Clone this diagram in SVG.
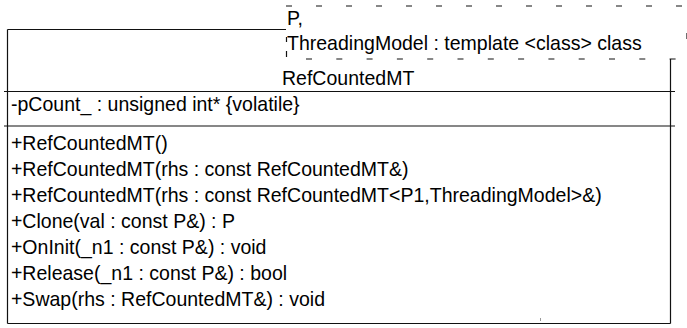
<svg xmlns="http://www.w3.org/2000/svg" width="687" height="328" viewBox="0 0 687 328">
<style>
.t{font-family:"Liberation Sans",Arial,sans-serif;font-size:21px;fill:#000}
.ln{stroke:#111;stroke-width:1.2;fill:none}
.dash{stroke:#111;stroke-width:1.2;fill:none;stroke-dasharray:6 24}
</style>
<rect width="687" height="328" fill="#fff"/>
<g id="class-RefCountedMT">
<line class="ln" x1="7.5" y1="29.5" x2="7.5" y2="323.5"/>
<line class="ln" x1="7.5" y1="29.5" x2="286" y2="29.5"/>
<line class="ln" x1="670.5" y1="59" x2="670.5" y2="323.5"/>
<line class="ln" x1="7.5" y1="323.5" x2="670.5" y2="323.5"/>
<line class="ln" x1="4" y1="91.5" x2="675" y2="91.5"/>
<line class="ln" x1="4" y1="126" x2="675" y2="126"/>
<line x1="540.5" y1="318" x2="540.5" y2="321" stroke="#999" stroke-width="1"/>
<g transform="scale(0.93,1)">
<text class="t" x="303.2" y="85">RefCountedMT</text>
<text class="t" x="11.8" y="111.5">-pCount_ : unsigned int* {volatile}</text>
<text class="t" x="11.8" y="150">+RefCountedMT()</text>
<text class="t" x="11.8" y="176">+RefCountedMT(rhs : const RefCountedMT&amp;)</text>
<text class="t" x="11.8" y="202">+RefCountedMT(rhs : const RefCountedMT&lt;P1,ThreadingModel&gt;&amp;)</text>
<text class="t" x="11.8" y="228">+Clone(val : const P&amp;) : P</text>
<text class="t" x="11.8" y="254">+OnInit(_n1 : const P&amp;) : void</text>
<text class="t" x="11.8" y="280">+Release(_n1 : const P&amp;) : bool</text>
<text class="t" x="11.8" y="306">+Swap(rhs : RefCountedMT&amp;) : void</text>
</g>
</g>
<g id="template-params">
<rect x="286.5" y="6" width="410" height="53" fill="#fff"/>
<line class="dash" x1="286" y1="6" x2="687" y2="6"/>
<line class="dash" x1="306" y1="59" x2="687" y2="59" style="stroke-dasharray:6 24.3"/>
<line class="ln" x1="286.5" y1="37" x2="286.5" y2="42"/>
<line class="ln" x1="286.5" y1="51" x2="286.5" y2="57"/>
<line class="ln" x1="687" y1="33" x2="687" y2="39"/>
<g transform="scale(0.93,1)">
<text class="t" x="308.6" y="25">P,</text>
<text class="t" x="308.6" y="50">ThreadingModel : template &lt;class&gt; class</text>
</g>
</g>
<g id="connectors"/>
</svg>
